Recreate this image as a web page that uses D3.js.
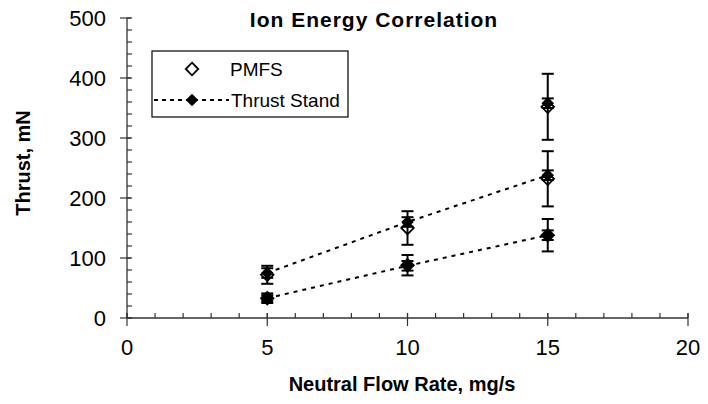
<!DOCTYPE html>
<html>
<head>
<meta charset="utf-8">
<script src="https://cdn.jsdelivr.net/npm/d3@7"></script>
<style>
  html, body { margin: 0; padding: 0; background: #fff; }
  svg text { font-family: "Liberation Sans", Arial, sans-serif; fill: #000; }
</style>
</head>
<body>
<svg id="chart" width="708" height="404"></svg>
<script>
// values
var xTicks = [0, 5, 10, 15, 20];
var yTicks = [0, 100, 200, 300, 400, 500];

// PMFS (open diamonds, with error bars)
var pmfsFlow = [5, 5, 10, 10, 15, 15, 15];
var pmfsThrust = [72, 33, 150, 88, 352, 232, 138];
var pmfsErr = [15, 5, 28, 17, 55, 46, 27];

// Thrust stand (filled diamonds, dotted lines)
var standFlow = [5, 10, 15];
var standUpper = [75, 160, 238];
var standLower = [33, 87, 138];
var standPeakFlow = [15];
var standPeak = [358];
var standErr = 8;

var svg = d3.select("#chart");

var x = d3.scaleLinear().domain([0, 20]).range([127, 688]);
var y = d3.scaleLinear().domain([0, 500]).range([318, 18]);

// y axis
var yAxis = svg.append("g").attr("transform", "translate(" + x(0) + ",0)");
yAxis.append("line").attr("x1", 0).attr("x2", 0).attr("y1", y(0)).attr("y2", y(500))
    .attr("stroke", "#333").attr("stroke-width", 1.3);
yAxis.selectAll(".minor").data(d3.range(0, 501, 20)).enter().append("line")
    .attr("x1", 0).attr("x2", 5)
    .attr("y1", function (d) { return y(d); }).attr("y2", function (d) { return y(d); })
    .attr("stroke", "#333").attr("stroke-width", 1.2);
yAxis.selectAll(".major").data(yTicks).enter().append("line")
    .attr("x1", -7).attr("x2", 4)
    .attr("y1", function (d) { return y(d); }).attr("y2", function (d) { return y(d); })
    .attr("stroke", "#333").attr("stroke-width", 1.2);
yAxis.selectAll(".lbl").data(yTicks).enter().append("text")
    .attr("x", -21).attr("y", function (d) { return y(d) + 8; })
    .attr("text-anchor", "end").style("font-size", "22px")
    .text(function (d) { return d; });

// x axis
var xAxis = svg.append("g").attr("transform", "translate(0," + y(0) + ")");
xAxis.append("line").attr("x1", x(0)).attr("x2", x(20)).attr("y1", 0).attr("y2", 0)
    .attr("stroke", "#333").attr("stroke-width", 1.3);
xAxis.selectAll(".minor").data(d3.range(0, 21, 1)).enter().append("line")
    .attr("x1", function (d) { return x(d); }).attr("x2", function (d) { return x(d); })
    .attr("y1", 0).attr("y2", -5)
    .attr("stroke", "#333").attr("stroke-width", 1.2);
xAxis.selectAll(".major").data(xTicks).enter().append("line")
    .attr("x1", function (d) { return x(d); }).attr("x2", function (d) { return x(d); })
    .attr("y1", -5).attr("y2", 8)
    .attr("stroke", "#333").attr("stroke-width", 1.2);
xAxis.selectAll(".lbl").data(xTicks).enter().append("text")
    .attr("x", function (d) { return x(d); }).attr("y", 37)
    .attr("text-anchor", "middle").style("font-size", "22px")
    .text(function (d) { return d; });

// axis titles and chart title
svg.append("text").attr("x", 402).attr("y", 391).attr("text-anchor", "middle")
    .style("font-size", "20px").style("font-weight", "bold")
    .text("Neutral Flow Rate, mg/s");
svg.append("text").attr("transform", "translate(30,163)rotate(-90)").attr("text-anchor", "middle")
    .style("font-size", "20px").style("font-weight", "bold")
    .text("Thrust, mN");
svg.append("text").attr("x", 374).attr("y", 27).attr("text-anchor", "middle")
    .style("font-size", "21px").style("font-weight", "bold").style("letter-spacing", "1px")
    .text("Ion Energy Correlation");

var diamond = d3.symbol().type(d3.symbolDiamond2).size(100);

// dotted thrust stand lines
var line = d3.line()
    .x(function (d) { return x(d[0]); })
    .y(function (d) { return y(d[1]); });
[standUpper, standLower].forEach(function (s) {
    svg.append("path")
        .datum(d3.zip(standFlow, s))
        .attr("d", line)
        .attr("fill", "none").attr("stroke", "#000").attr("stroke-width", 2)
        .attr("stroke-dasharray", "4,5");
});

// error bars
function errorBars(data, cls) {
    var g = svg.append("g").attr("class", cls);
    var eb = g.selectAll("g").data(data).enter().append("g");
    eb.append("line")
        .attr("x1", function (d) { return x(d[0]); }).attr("x2", function (d) { return x(d[0]); })
        .attr("y1", function (d) { return y(d[1] - d[2]); }).attr("y2", function (d) { return y(d[1] + d[2]); })
        .attr("stroke", "#000").attr("stroke-width", 2);
    [-1, 1].forEach(function (s) {
        eb.append("line")
            .attr("x1", function (d) { return x(d[0]) - 6; }).attr("x2", function (d) { return x(d[0]) + 6; })
            .attr("y1", function (d) { return y(d[1] + s * d[2]); }).attr("y2", function (d) { return y(d[1] + s * d[2]); })
            .attr("stroke", "#000").attr("stroke-width", 2);
    });
}

var pmfsData = d3.zip(pmfsFlow, pmfsThrust, pmfsErr);
var standData = d3.zip(standFlow, standUpper).concat(d3.zip(standFlow, standLower))
    .concat(d3.zip(standPeakFlow, standPeak))
    .map(function (d) { return [d[0], d[1], standErr]; });

errorBars(pmfsData, "pmfs-err");
errorBars(standData, "stand-err");

// filled diamonds
svg.selectAll(".stand").data(standData).enter().append("path")
    .attr("d", diamond)
    .attr("transform", function (d) { return "translate(" + x(d[0]) + "," + y(d[1]) + ")"; })
    .attr("fill", "#000");

// open diamonds
svg.selectAll(".pmfs").data(pmfsData).enter().append("path")
    .attr("d", diamond)
    .attr("transform", function (d) { return "translate(" + x(d[0]) + "," + y(d[1]) + ")"; })
    .attr("fill", "none").attr("stroke", "#000").attr("stroke-width", 1.8);

// legend
var leg = svg.append("g");
leg.append("rect").attr("x", 152).attr("y", 51).attr("width", 196).attr("height", 66)
    .attr("fill", "#fff").attr("stroke", "#000").attr("stroke-width", 1.2);
leg.append("path").attr("d", diamond).attr("transform", "translate(192,69)")
    .attr("fill", "none").attr("stroke", "#000").attr("stroke-width", 1.8);
leg.append("text").attr("x", 230).attr("y", 76).style("font-size", "19px").text("PMFS");
leg.append("line").attr("x1", 154).attr("x2", 229).attr("y1", 100).attr("y2", 100)
    .attr("stroke", "#000").attr("stroke-width", 2).attr("stroke-dasharray", "4,4");
leg.append("path").attr("d", diamond).attr("transform", "translate(192,100)").attr("fill", "#000");
leg.append("text").attr("x", 231).attr("y", 107).style("font-size", "19px").text("Thrust Stand");
</script>
</body>
</html>
